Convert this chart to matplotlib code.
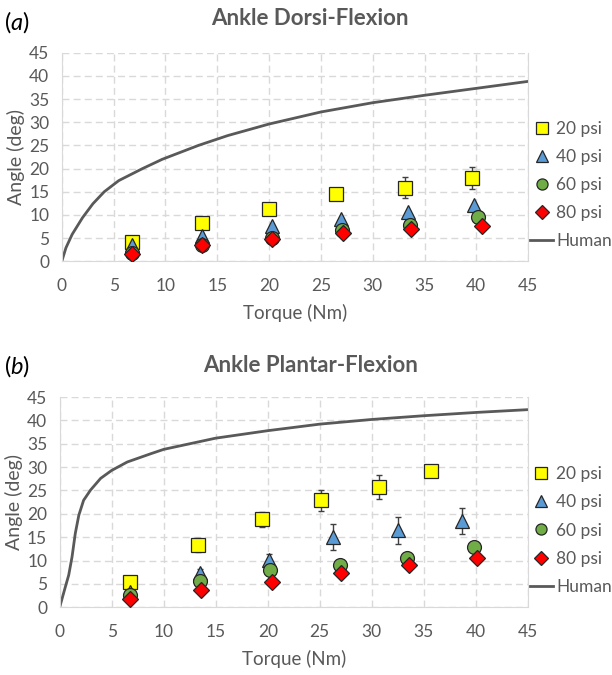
from matplotlib import pyplot as plt
from matplotlib.lines import Line2D
import numpy as np

plt.rcParams['font.family'] = ['Lato', 'DejaVu Sans']
plt.rcParams['mathtext.fontset'] = 'custom'
plt.rcParams['mathtext.it'] = 'Lato:italic'
plt.rcParams['mathtext.rm'] = 'Lato'

GRAY = "#595959"

# ---- (a) Ankle Dorsi-Flexion ----
dorsi_20_x = [6.8, 13.5, 20.0, 26.5, 33.1, 39.6]
dorsi_20_y = [4.1, 8.2, 11.3, 14.4, 15.9, 17.9]
dorsi_20_err = [0.3, 0.3, 0.4, 1.0, 2.2, 2.4]
dorsi_40_x = [6.8, 13.5, 20.3, 26.9, 33.4, 39.8]
dorsi_40_y = [3.4, 5.4, 7.7, 9.1, 10.6, 12.2]
dorsi_40_err = [0, 0, 0, 0, 0, 0]
dorsi_60_x = [6.8, 13.5, 20.3, 27.0, 33.6, 40.2]
dorsi_60_y = [1.8, 3.6, 5.0, 6.8, 7.8, 9.5]
dorsi_60_err = [0, 0, 0, 1.0, 0, 0]
dorsi_80_x = [6.8, 13.5, 20.3, 27.1, 33.7, 40.5]
dorsi_80_y = [1.6, 3.5, 4.8, 6.0, 7.0, 7.7]
dorsi_80_err = [0, 0, 0, 0, 0, 0]
dorsi_human_x = [0, 0.4, 1.0, 2.0, 3.0, 4.1, 5.5, 7.8, 9.7, 13.2, 16, 20, 25, 30, 35, 40, 45]
dorsi_human_y = [0, 2.9, 5.8, 9.4, 12.4, 15.0, 17.4, 20.0, 22.0, 25.0, 27.1, 29.6, 32.2, 34.2, 35.8, 37.3, 38.8]

# ---- (b) Ankle Plantar-Flexion ----
plantar_20_x = [6.8, 13.3, 19.4, 25.1, 30.7, 35.7]
plantar_20_y = [5.4, 13.4, 18.8, 22.9, 25.7, 29.1]
plantar_20_err = [0.3, 1.5, 1.6, 2.2, 2.6, 0.3]
plantar_40_x = [6.8, 13.5, 20.1, 26.3, 32.5, 38.7]
plantar_40_y = [3.3, 7.3, 10.2, 15.0, 16.5, 18.5]
plantar_40_err = [0.8, 1.0, 1.3, 2.8, 2.9, 2.8]
plantar_60_x = [6.8, 13.5, 20.2, 26.9, 33.4, 39.8]
plantar_60_y = [2.6, 5.6, 8.0, 9.0, 10.6, 12.9]
plantar_60_err = [0, 0, 0, 0, 0, 0]
plantar_80_x = [6.8, 13.6, 20.4, 27.0, 33.6, 40.1]
plantar_80_y = [1.8, 3.6, 5.5, 7.4, 9.0, 10.6]
plantar_80_err = [0, 0, 0, 0, 0, 0]
plantar_human_x = [0, 0.55, 0.87, 1.19, 1.5, 1.84, 2.3, 2.97, 3.94, 5.0, 6.5, 8.8, 10, 15, 20, 25, 30, 35, 40, 45]
plantar_human_y = [0, 4.4, 6.9, 10.8, 15.8, 19.7, 22.9, 25.1, 27.6, 29.3, 31.1, 32.9, 33.8, 36.2, 37.8, 39.2, 40.2, 41.0, 41.7, 42.3]

labels = ["20 psi", "40 psi", "60 psi", "80 psi"]
styles = [
    dict(marker="s", markerfacecolor="#FFFF00", markersize=10),
    dict(marker="^", markerfacecolor="#5B9BD5", markersize=10),
    dict(marker="o", markerfacecolor="#70AD47", markersize=10),
    dict(marker="D", markerfacecolor="#FF0000", markersize=8.5),
]


def draw_panel(ax, series, human_x, human_y):
    ax.plot(human_x, human_y, color=GRAY, lw=2, zorder=2)
    for (x, y, e), st in zip(series, styles):
        ax.errorbar(x, y, yerr=e, fmt="none", ecolor="#404040", elinewidth=1,
                    capsize=2.5, capthick=1, zorder=3)
        ax.plot(x, y, ls="none", markeredgecolor="#262626", markeredgewidth=0.9,
                zorder=4, **st)
    ax.set_xlim(0, 45)
    ax.set_ylim(0, 45)
    ax.set_xticks(np.arange(0, 46, 5))
    ax.set_yticks(np.arange(0, 46, 5))
    ax.grid(True, color="#D9D9D9", ls=(0, (5, 3)), lw=1)
    ax.set_axisbelow(True)
    for s in ["left", "right", "bottom"]:
        ax.spines[s].set_color("#D9D9D9")
    ax.spines["top"].set_visible(False)
    ax.tick_params(length=0, labelsize=12.5, labelcolor=GRAY)
    ax.tick_params(axis="x", pad=12)
    ax.tick_params(axis="y", pad=9)
    ax.set_xlabel("Torque (Nm)", fontsize=13.5, color=GRAY, labelpad=7)
    ax.set_ylabel("Angle (deg)", fontsize=14, color=GRAY, labelpad=3)

    handles = [Line2D([], [], ls="none", markeredgecolor="#262626",
                      markeredgewidth=0.9, **dict(st, markersize=st["markersize"] * 0.8))
               for st in styles]
    handles.append(Line2D([], [], color=GRAY, lw=2))
    leg = ax.legend(handles, labels + ["Human"], loc="center left",
                    bbox_to_anchor=(0.99, 0.365), frameon=False, fontsize=12.5,
                    handlelength=1.3, handletextpad=0.2, labelspacing=0.7,
                    borderaxespad=0)
    for t in leg.get_texts():
        t.set_color(GRAY)


fig = plt.figure(figsize=(6.12, 6.75), dpi=100)
ax1 = fig.add_axes([0.101, 0.613, 0.762, 0.309])
ax2 = fig.add_axes([0.0975, 0.1003, 0.765, 0.3115])

draw_panel(ax1, [(dorsi_20_x, dorsi_20_y, dorsi_20_err),
                 (dorsi_40_x, dorsi_40_y, dorsi_40_err),
                 (dorsi_60_x, dorsi_60_y, dorsi_60_err),
                 (dorsi_80_x, dorsi_80_y, dorsi_80_err)],
           dorsi_human_x, dorsi_human_y)
draw_panel(ax2, [(plantar_20_x, plantar_20_y, plantar_20_err),
                 (plantar_40_x, plantar_40_y, plantar_40_err),
                 (plantar_60_x, plantar_60_y, plantar_60_err),
                 (plantar_80_x, plantar_80_y, plantar_80_err)],
           plantar_human_x, plantar_human_y)

fig.text(0.507, 0.972, "Ankle Dorsi-Flexion", ha="center", va="center",
         fontsize=16, fontweight="bold", color=GRAY)
fig.text(0.507, 0.459, "Ankle Plantar-Flexion", ha="center", va="center",
         fontsize=16, fontweight="bold", color=GRAY)
fig.text(0.006, 0.967, r"($\mathit{a}$)", fontsize=17, va="center", ha="left")
fig.text(0.006, 0.457, r"($\mathit{b}$)", fontsize=17, va="center", ha="left")

plt.savefig("out.png", dpi=100)
